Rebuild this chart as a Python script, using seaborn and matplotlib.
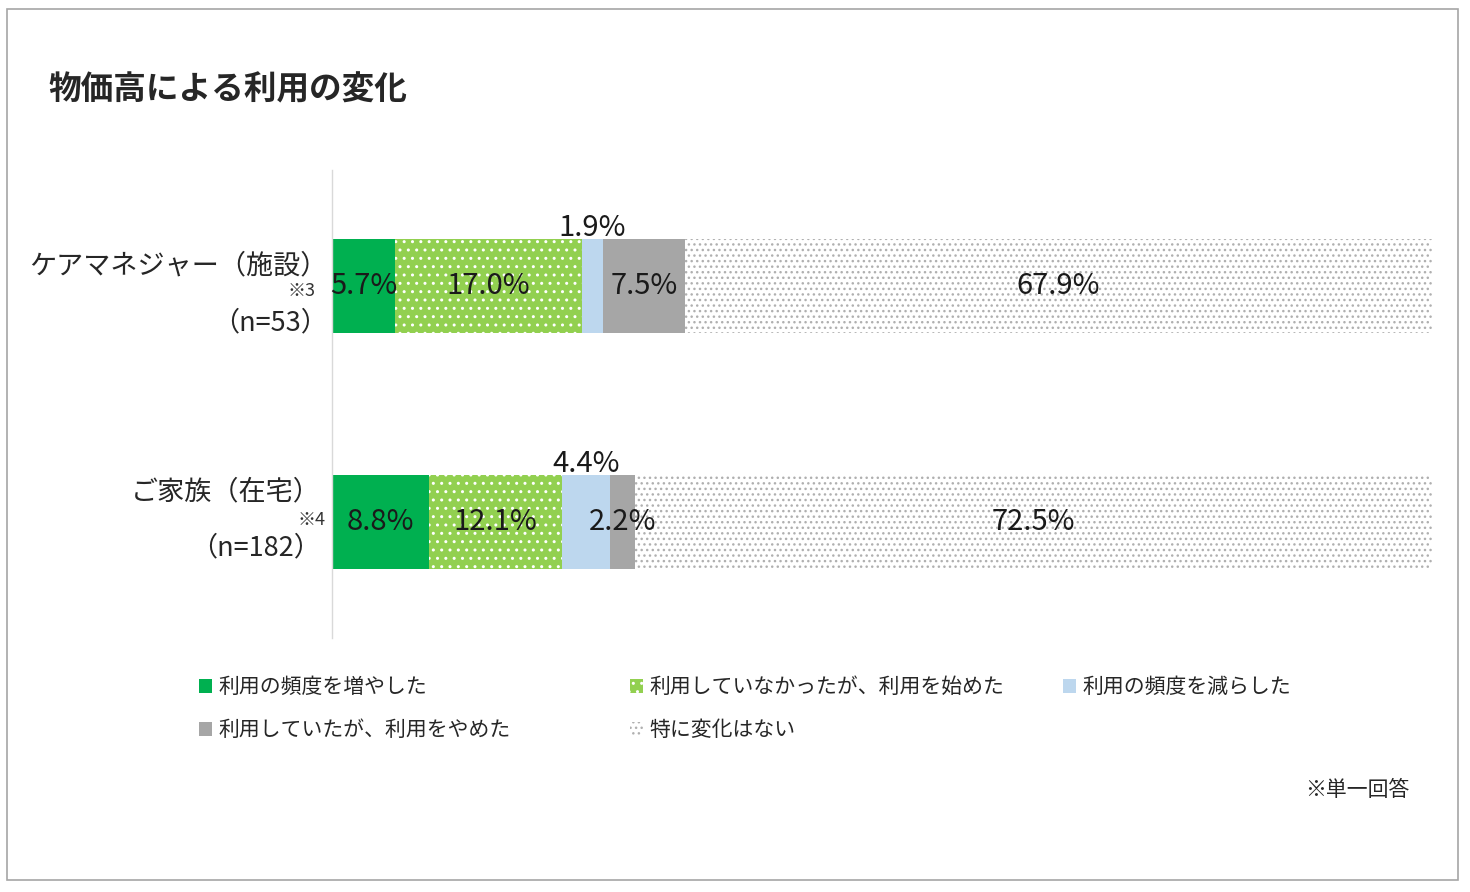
import numpy as np
import pandas as pd
import seaborn as sns
import matplotlib.pyplot as plt
from matplotlib.patches import Patch, Rectangle
from matplotlib.transforms import blended_transform_factory

sns.set_style("white")
plt.rcParams['font.family'] = ['Noto Sans CJK JP', 'DejaVu Sans']
plt.rcParams['hatch.linewidth'] = 1.0

# Data
groups = ["ケアマネジャー（施設）", "ご家族（在宅）"]
notes = ["※3", "※4"]
sample_sizes = ["（n=53）", "（n=182）"]
answers = ["利用の頻度を増やした", "利用していなかったが、利用を始めた",
           "利用の頻度を減らした", "利用していたが、利用をやめた", "特に変化はない"]
care_manager = [5.7, 17.0, 1.9, 7.5, 67.9]
family = [8.8, 12.1, 4.4, 2.2, 72.5]

colors = ["#00B050", "#92D050", "#BDD7EE", "#A6A6A6", "#FFFFFF"]
hatches = [None, "..", None, None, "..."]
hatch_colors = [None, "#FFFFFF", None, None, "#B0B0B0"]

df = pd.DataFrame([care_manager, family], columns=answers)
df.insert(0, "group", groups)
cum = df[answers].cumsum(axis=1)

fig = plt.figure(figsize=(14.7, 8.92), dpi=100)
ax = fig.add_axes([332 / 1470, 1 - 638 / 892, 1100 / 1470, 468 / 892])

# stacked bars: draw cumulative totals from the back to the front
for i in range(len(answers) - 1, -1, -1):
    sub = pd.DataFrame({"group": groups, "total": cum[answers[i]].values})
    sns.barplot(data=sub, x="total", y="group", orient="h", ax=ax,
                color=colors[i], width=0.4, saturation=1)
    for bar in ax.patches[-len(groups):]:
        bar.set_facecolor(colors[i])
        bar.set_linewidth(0)
        if hatches[i]:
            bar.set_hatch(hatches[i])
            bar.set_edgecolor(hatch_colors[i])

ax.set_xlim(0, 100)
ax.set_ylim(1.49, -0.49)
ax.set_xlabel("")
ax.set_ylabel("")
ax.set_xticks([])
ax.set_yticks([])
for s in ["top", "right", "bottom"]:
    ax.spines[s].set_visible(False)
ax.spines["left"].set_color("#D9D9D9")
ax.spines["left"].set_linewidth(1)

# value labels (light blue segment labelled above the bar)
for r, row in enumerate([care_manager, family]):
    left = 0
    for i, v in enumerate(row):
        xc = left + v / 2
        yc = r - 0.245 if i == 2 else r
        ax.text(xc, yc, f"{v:.1f}%", ha="center", va="center",
                fontsize=21, color="#1a1a1a")
        left += v

# category labels
tr = blended_transform_factory(ax.transAxes, ax.transData)
ax.text(-0.004, -0.085, groups[0], transform=tr, ha="right", va="center", fontsize=19.5)
ax.text(-0.015, 0.02, notes[0], transform=tr, ha="right", va="center", fontsize=13, color="#333333")
ax.text(-0.004, 0.155, sample_sizes[0], transform=tr, ha="right", va="center", fontsize=19.5)
ax.text(-0.01, 0.87, groups[1], transform=tr, ha="right", va="center", fontsize=19.5)
ax.text(-0.006, 0.99, notes[1], transform=tr, ha="right", va="center", fontsize=13, color="#333333")
ax.text(-0.01, 1.11, sample_sizes[1], transform=tr, ha="right", va="center", fontsize=19.5)

# legend, one per column
handles = []
for i, a in enumerate(answers):
    p = Patch(facecolor=colors[i], edgecolor=hatch_colors[i] or colors[i],
              hatch=hatches[i], linewidth=0, label=a)
    handles.append(p)
leg_cols = [[0, 3], [1, 4], [2]]
leg_x = [191, 622, 1055]
for col, x in zip(leg_cols, leg_x):
    leg = fig.legend(handles=[handles[k] for k in col], loc="upper left",
                     bbox_to_anchor=(x / 1470, 1 - 668 / 892), frameon=False,
                     fontsize=15, handlelength=0.62, handleheight=0.62,
                     handletextpad=0.3, labelspacing=1.0, borderaxespad=0)

fig.text(48 / 1470, 1 - 90 / 892, "物価高による利用の変化", fontsize=23.5,
         fontweight="bold", ha="left", va="center")
fig.text(1410 / 1470, 1 - 790 / 892, "※単一回答", fontsize=15, ha="right", va="center")

fig.patches.append(Rectangle((7 / 1470, 1 - 880 / 892), 1451 / 1470, 871 / 892,
                             transform=fig.transFigure, fill=False,
                             edgecolor="#A6A6A6", linewidth=1.2))

fig.savefig("out.png", dpi=100)
